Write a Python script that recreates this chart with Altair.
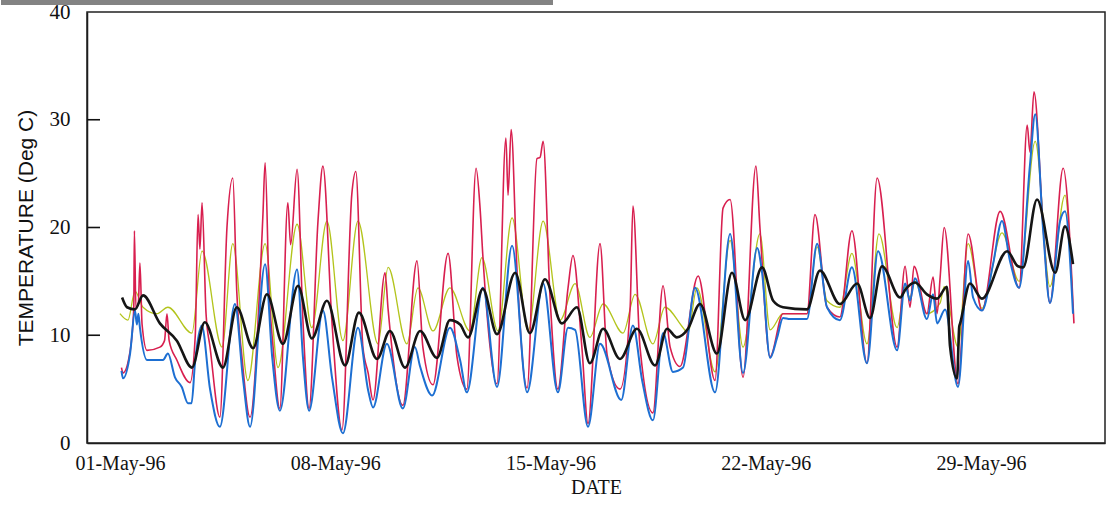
import altair as alt
import pandas as pd

# ---- data: (days after 01-May-96 00:00, temperature Deg C) ----
blue_days = [0.05, 0.10, 0.33, 0.49, 0.55, 0.60, 0.65, 0.88, 1.40, 1.56, 1.79, 2.01, 2.21, 2.33, 2.44, 2.66,
             2.93, 3.25, 3.74, 4.00, 4.23, 4.72, 4.95, 5.20, 5.76, 5.95, 6.15, 6.60, 6.90, 7.25, 7.74, 8.07,
             8.23, 8.68, 9.20, 9.59, 9.76, 10.15, 10.73, 11.06, 11.28, 11.80, 12.26, 12.75, 13.24, 13.76,
             14.24, 14.57, 14.80, 15.22, 15.61, 16.30, 16.68, 16.98, 17.33, 17.66, 17.98, 18.31, 18.70,
             19.35, 19.84, 20.26, 20.72, 20.88, 21.14, 21.37, 21.56, 21.79, 22.34, 22.67, 22.99, 23.41,
             23.80, 24.29, 24.65, 25.27, 25.53, 25.69, 25.85, 26.24, 26.44, 26.57, 26.83, 27.25, 27.58,
             27.74, 28.03, 28.39, 28.68, 28.94, 29.24, 29.59, 29.76, 30.02, 30.24, 30.57, 30.73, 30.99]
blue_vals = [6.7, 6.0, 8.3, 12.3, 11.0, 12.0, 10.7, 7.7, 7.7, 8.3, 6.1, 5.2, 3.7, 3.7, 7.4, 10.9,
             5.0, 1.5, 12.9, 6.0, 1.5, 16.6, 8.0, 3.0, 16.1, 8.0, 3.0, 12.3, 6.0, 0.9, 10.7, 4.9,
             3.3, 9.2, 3.2, 8.9, 7.1, 4.4, 10.7, 7.7, 4.7, 14.4, 5.2, 18.3, 4.7, 14.8,
             4.7, 10.7, 10.5, 1.5, 9.2, 4.0, 10.9, 5.8, 2.1, 10.2, 6.6, 7.0, 14.4,
             4.7, 19.4, 6.5, 18.1, 15.8, 7.9, 9.8, 11.6, 11.5, 11.5, 18.5, 12.6, 11.4,
             16.3, 7.4, 17.8, 8.6, 14.8, 13.2, 15.3, 11.5, 13.8, 11.1, 12.4, 5.2, 16.9,
             13.5, 12.3, 16.6, 20.6, 16.9, 14.4, 25.8, 30.5, 19.7, 13.0, 20.6, 21.5, 12.0]

red_days = [0.05, 0.10, 0.33, 0.45, 0.47, 0.52, 0.60, 0.65, 0.72, 0.88, 1.30, 1.45, 1.53, 1.60, 1.85, 2.28,
            2.45, 2.54, 2.60, 2.67, 2.80, 2.93, 3.25, 3.48, 3.67, 3.80, 3.97, 4.23, 4.65, 4.72, 4.85, 4.98,
            5.20, 5.46, 5.55, 5.76, 5.95, 6.15, 6.44, 6.60, 6.89, 7.22, 7.54, 7.67, 7.90, 8.07, 8.23, 8.62,
            8.72, 9.20, 9.66, 9.85, 10.18, 10.67, 10.96, 11.28, 11.58, 11.71, 11.80, 12.26, 12.55, 12.62,
            12.72, 12.91, 13.24, 13.56, 13.66, 13.76, 13.98, 14.24, 14.57, 14.73, 15.02, 15.22, 15.61,
            15.84, 16.26, 16.59, 16.68, 16.91, 17.33, 17.66, 17.89, 18.21, 18.80, 19.35, 19.61, 19.84,
            20.26, 20.68, 20.81, 21.14, 21.56, 22.34, 22.60, 22.99, 23.41, 23.80, 24.29, 24.62, 25.27,
            25.53, 25.69, 25.82, 26.24, 26.44, 26.57, 26.67, 26.80, 27.25, 27.58, 28.03, 28.62, 29.24,
            29.50, 29.59, 29.72, 30.02, 30.24, 30.67, 31.02]
red_vals = [7.0, 6.5, 8.5, 12.5, 19.7, 12.5, 13.0, 16.7, 11.0, 8.6, 8.9, 9.5, 12.0, 9.5, 7.7, 5.6,
            10.0, 21.2, 18.0, 22.3, 12.0, 8.9, 2.4, 20.0, 24.6, 14.0, 7.9, 2.4, 21.2, 26.0, 14.0, 8.9,
            3.2, 22.3, 18.4, 25.4, 11.4, 3.2, 20.6, 25.7, 11.4, 1.2, 23.1, 25.2, 8.9, 6.5, 4.0, 15.8,
            12.4, 3.5, 16.9, 8.9, 5.4, 17.6, 8.0, 5.0, 25.5, 21.8, 17.4, 5.5, 28.3, 23.0,
            29.1, 16.1, 5.1, 26.4, 26.5, 28.0, 13.8, 5.0, 14.4, 17.4, 8.9, 1.8, 18.5,
            8.2, 5.0, 12.6, 22.0, 8.9, 2.8, 14.6, 8.9, 7.1, 15.5, 5.8, 21.8, 22.6,
            6.1, 25.7, 20.0, 8.0, 12.0, 12.0, 21.2, 12.6, 11.7, 19.7, 7.4, 24.6, 8.9,
            16.4, 12.6, 16.4, 12.0, 15.4, 12.0, 15.4, 20.0, 5.5, 19.4, 12.3, 21.5, 14.4,
            29.5, 27.0, 32.6, 20.0, 13.0, 25.5, 11.1]

green_days = [0.00, 0.26, 0.49, 0.75, 1.20, 1.56, 2.34, 2.67, 3.32, 3.67, 4.16, 4.72, 5.14, 5.76, 6.24, 6.73,
              7.25, 7.74, 8.39, 8.72, 9.33, 9.69, 10.18, 10.73, 11.38, 11.77, 12.29, 12.75, 13.27, 13.76,
              14.31, 14.80, 15.28, 15.71, 16.36, 16.75, 17.33, 17.72, 18.31, 18.47, 18.76, 19.35, 19.84,
              20.26, 20.81, 21.14, 21.56, 22.34, 22.67, 22.99, 23.41, 23.80, 24.29, 24.68, 25.27, 25.53,
              25.69, 25.85, 26.24, 26.67, 26.80, 27.25, 27.58, 28.03, 28.68, 29.24, 29.76, 30.24, 30.73, 30.96]
green_vals = [12.0, 11.4, 14.1, 12.6, 12.0, 12.6, 10.2, 17.8, 8.9, 18.5, 5.8, 18.5, 7.0, 20.3, 10.7, 20.6,
              9.5, 20.6, 9.2, 16.3, 9.2, 14.4, 10.4, 14.4, 10.4, 17.2, 10.4, 20.9, 10.4, 20.6,
              11.4, 14.8, 9.8, 12.9, 10.2, 13.8, 9.2, 12.6, 10.7, 10.2, 14.4, 6.6, 18.8,
              8.9, 19.4, 10.5, 12.0, 12.0, 18.2, 13.2, 12.6, 17.6, 9.2, 19.4, 10.7, 14.5,
              13.5, 15.0, 12.0, 13.0, 14.5, 8.9, 18.5, 12.5, 19.5, 15.0, 28.0, 14.5, 23.0, 14.4]

black_days = [0.07, 0.23, 0.49, 0.75, 1.30, 1.85, 2.34, 2.76, 3.35, 3.80, 4.33, 4.78, 5.30, 5.79, 6.24, 6.73,
              7.32, 7.77, 8.36, 8.78, 9.27, 9.76, 10.31, 10.73, 11.06, 11.32, 11.80, 12.26, 12.85, 13.33,
              13.82, 14.37, 14.86, 15.28, 15.71, 16.26, 16.81, 17.40, 17.79, 18.11, 18.47, 18.86, 19.41,
              19.90, 20.33, 20.88, 21.24, 21.56, 22.34, 22.76, 23.41, 23.97, 24.39, 24.78, 25.37, 25.53,
              25.85, 26.24, 26.57, 26.89, 26.99, 27.22, 27.29, 27.32, 27.64, 28.03, 28.85, 29.20, 29.37,
              29.82, 30.41, 30.73, 30.99]
black_vals = [13.5, 12.6, 12.4, 13.7, 11.1, 9.5, 7.0, 11.2, 7.0, 12.6, 8.8, 13.8, 9.2, 14.6, 9.7, 13.2,
              7.2, 12.1, 7.8, 10.4, 7.0, 10.4, 7.9, 11.4, 11.0, 9.8, 14.3, 10.1, 15.8, 10.2,
              15.2, 11.1, 12.6, 7.4, 10.6, 7.8, 10.6, 7.2, 10.6, 9.8, 10.6, 12.9, 8.3,
              15.8, 11.4, 16.3, 13.2, 12.6, 12.4, 16.0, 12.9, 14.8, 11.6, 16.4, 13.5, 14.2,
              14.9, 13.8, 13.4, 14.5, 9.0, 6.0, 10.8, 11.1, 14.8, 13.4, 17.8, 16.4, 16.3,
              22.6, 15.8, 20.1, 16.6]

y_ticks = [0, 10, 20, 30, 40]
inner_ticks = [10, 20, 30]
date_ticks = [1, 8, 15, 22, 29]

series = [
    ("Green", green_days, green_vals, "#b3c41c", 1.3),
    ("Red", red_days, red_vals, "#d81f4f", 1.6),
    ("Blue", blue_days, blue_vals, "#1d6fd2", 2.0),
    ("Black", black_days, black_vals, "#151515", 2.6),
]

base_time = pd.Timestamp("1996-05-01")
rows = []
for order, (name, days, vals, _, _) in enumerate(series):
    for d, v in zip(days, vals):
        rows.append({"series": name, "order": order,
                     "time": (base_time + pd.to_timedelta(d, unit="D")).strftime("%Y-%m-%dT%H:%M:%S"),
                     "temp": v})
df = pd.DataFrame(rows)

x_start = alt.DateTime(year=1996, month=4, date=29, hours=22, minutes=18)
x_end = alt.DateTime(year=1996, month=6, date=2, hours=0, minutes=43)
x_scale = alt.Scale(domain=[x_start, x_end])
y_scale = alt.Scale(domain=[0, 40], nice=False)

x_axis = alt.Axis(values=[alt.DateTime(year=1996, month=5, date=d) for d in date_ticks],
                  format="%d-%b-%y", ticks=False, grid=False, labelFont="Liberation Serif",
                  labelFontSize=20, labelColor="#111", labelPadding=10, title="DATE",
                  titleFont="Liberation Serif", titleFontSize=20, titleFontWeight="normal",
                  titleColor="#111", titlePadding=4, domainColor="#111", domainWidth=1.5)
y_axis = alt.Axis(values=y_ticks, ticks=False, grid=False, labelFont="Liberation Serif",
                  labelFontSize=21, labelColor="#111", labelPadding=17,
                  title="TEMPERATURE (Deg C)", titleFont="Liberation Sans", titleFontSize=21,
                  titleFontWeight="normal", titleColor="#111", titlePadding=13,
                  domainColor="#111", domainWidth=1.5)

# scanned legend-box remnant along the top edge
top_bar = alt.Chart(pd.DataFrame({"a": [0]})).mark_rect(color="#6d6d6d", opacity=0.85).encode(
    x=alt.value(-86), x2=alt.value(466), y=alt.value(-12), y2=alt.value(-7)
)

# plot frame
frame = alt.Chart(pd.DataFrame({"a": [0]})).mark_rect(
    filled=False, stroke="#222", strokeWidth=1.5
).encode(
    x=alt.value(0), x2=alt.value(1018), y=alt.value(0), y2=alt.value(431)
)

layers = [top_bar, frame]
for order, (name, days, vals, color, width) in enumerate(series):
    layer = alt.Chart(df[df.series == name]).mark_line(
        color=color, strokeWidth=width, interpolate="monotone"
    ).encode(
        x=alt.X("time:T", scale=x_scale, axis=x_axis if order == 0 else None),
        y=alt.Y("temp:Q", scale=y_scale, axis=y_axis if order == 0 else None),
    )
    layers.append(layer)

# inward-pointing y ticks at 10, 20, 30 (short horizontal strokes drawn as custom symbols)
tick_df = pd.DataFrame({"tv": inner_ticks})
tick_marks = alt.Chart(tick_df).mark_point(
    shape="M-1,0L1,0", filled=False, stroke="#111", strokeWidth=1.6, size=169, opacity=1
).encode(
    y=alt.Y("tv:Q", scale=y_scale, axis=None),
    x=alt.value(6.5),
)

chart = alt.layer(*layers, tick_marks).resolve_axis(
    x="independent", y="independent"
).properties(
    width=1018, height=431,
    background="white",
    autosize=alt.AutoSizeParams(type="none"),
    padding={"left": 87, "top": 12, "right": 6, "bottom": 72},
).configure_view(strokeWidth=0)

chart.save("out.html", embed_options={"renderer": "svg", "actions": False})
